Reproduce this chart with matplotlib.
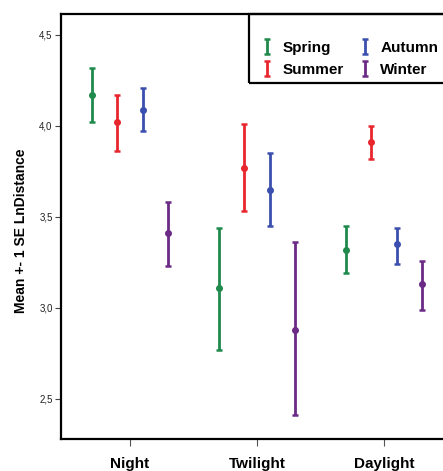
import numpy as np
import matplotlib.pyplot as plt
from matplotlib.patches import Rectangle
from matplotlib.legend_handler import HandlerErrorbar

plt.rcParams['font.family'] = ['Liberation Sans', 'DejaVu Sans']

# data (mean and +-1 SE bounds)
periods = ['Night', 'Twilight', 'Daylight']
seasons = ['Spring', 'Summer', 'Autumn', 'Winter']

spring_mean = [4.17, 3.11, 3.32]
spring_lo = [4.02, 2.77, 3.19]
spring_hi = [4.32, 3.44, 3.45]

summer_mean = [4.02, 3.77, 3.91]
summer_lo = [3.86, 3.53, 3.82]
summer_hi = [4.17, 4.01, 4.00]

autumn_mean = [4.09, 3.65, 3.35]
autumn_lo = [3.97, 3.45, 3.24]
autumn_hi = [4.21, 3.85, 3.44]

winter_mean = [3.41, 2.88, 3.13]
winter_lo = [3.23, 2.41, 2.99]
winter_hi = [3.58, 3.36, 3.26]

yticks = [2.5, 3.0, 3.5, 4.0, 4.5]
ytick_labels = ['2,5', '3,0', '3,5', '4,0', '4,5']

colors = ['#1f8a4c', '#e8262e', '#3a4fae', '#6a2a86']
offsets = [-0.3, -0.1, 0.1, 0.3]

fig = plt.figure(figsize=(4.43, 4.71), dpi=100)
ax = fig.add_axes([61/443, 32/471, 391/443, 425/471])

series = [(spring_mean, spring_lo, spring_hi),
          (summer_mean, summer_lo, summer_hi),
          (autumn_mean, autumn_lo, autumn_hi),
          (winter_mean, winter_lo, winter_hi)]

x = np.arange(len(periods))
handles = []
for (m, lo, hi), c, off, name in zip(series, colors, offsets, seasons):
    m = np.array(m); lo = np.array(lo); hi = np.array(hi)
    eb = ax.errorbar(x + off, m, yerr=[m - lo, hi - m], fmt='none',
                     ecolor=c, elinewidth=2.0, capsize=2.4, capthick=1.8,
                     label=name)
    ax.plot(x + off, m, 'o', color=c, markersize=4)
    handles.append(eb)

ax.set_xlim(-0.543, 2.536)
ax.set_ylim(2.28, 4.615)
ax.set_xticks(x)
ax.set_xticklabels(periods, fontsize=11, fontweight='bold')
ax.set_yticks(yticks)
ax.set_yticklabels(ytick_labels, fontsize=7, color='#222222')
ax.tick_params(axis='y', length=4, width=0.8, color='#444444', pad=2)
ax.tick_params(axis='x', length=5, width=0.8, color='#555555', pad=8)

for s in ['left', 'bottom', 'top']:
    ax.spines[s].set_linewidth(1.6)
    ax.spines[s].set_color('black')
ax.spines['right'].set_visible(False)

ax.set_ylabel('Mean +- 1 SE LnDistance', fontsize=10, fontweight='bold')
ax.yaxis.set_label_coords(-0.085, 0.49)

# legend box
fig.patches.append(Rectangle((249/443, 1 - 83/471), 0.6, 69/471,
                             transform=fig.transFigure, fill=False,
                             edgecolor='black', linewidth=1.6, zorder=5))
fig.legend(handles=handles, labels=seasons, ncol=2, frameon=False,
           loc='upper left', bbox_to_anchor=(255/443, 1 - 41/471),
           borderpad=0, borderaxespad=0, prop={'weight': 'bold', 'size': 11},
           handlelength=1.6, handletextpad=0.22, columnspacing=0.55,
           labelspacing=0.5,
           handler_map={h: HandlerErrorbar(yerr_size=0.5) for h in handles})

fig.savefig('out.png', dpi=100)
